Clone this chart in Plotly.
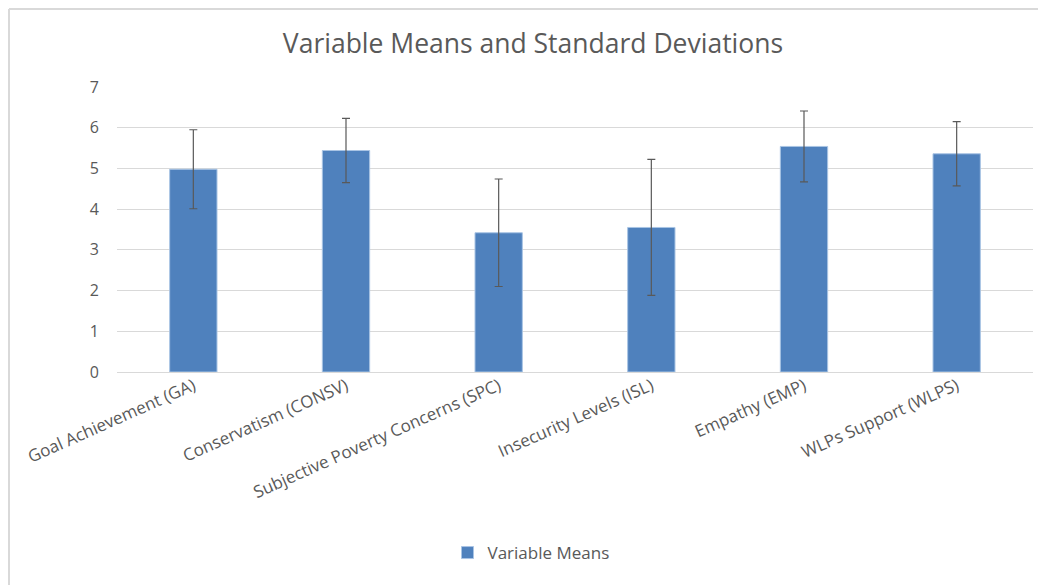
import plotly.graph_objects as go

categories = ["Goal Achievement (GA)", "Conservatism (CONSV)", "Subjective Poverty Concerns (SPC)",
              "Insecurity Levels (ISL)", "Empathy (EMP)", "WLPs Support (WLPS)"]
means = [4.98, 5.44, 3.42, 3.55, 5.54, 5.36]
std_devs = [0.97, 0.79, 1.32, 1.67, 0.87, 0.79]

# page body has an 8px margin, so the figure is sized/margined to land the plot
# area at x 117..1033, y 87..372 in the screenshot
W, H = 1038, 577
L, T, PW, PH = 109, 79, 916, 285

fig = go.Figure()
fig.add_trace(go.Bar(
    x=categories,
    y=means,
    name="Variable Means",
    marker=dict(color="#4f81bd", line=dict(color="#a9c4e4", width=1)),
    error_y=dict(type="data", array=std_devs, visible=True,
                 color="#595959", thickness=1.2, width=4),
))

fig.update_layout(
    width=W,
    height=H,
    margin=dict(l=L, r=W - L - PW, t=T, b=H - T - PH),
    paper_bgcolor="white",
    plot_bgcolor="white",
    font=dict(family="Open Sans, sans-serif", color="#595959", size=16),
    title=dict(text="Variable Means and Standard Deviations", x=(533 - 8) / W, xanchor="center",
               y=1 - 36 / H, yanchor="middle", font=dict(size=26.5, color="#595959")),
    bargap=0.69,
    showlegend=True,
    legend=dict(orientation="h", x=(531 - 117) / PW, xanchor="center", y=-181 / PH, yanchor="middle",
                itemwidth=30, font=dict(size=17, color="#595959")),
    xaxis=dict(tickangle=-24, showgrid=False, showline=False, ticks="",
               tickfont=dict(size=17)),
    yaxis=dict(range=[0, 7], dtick=1, showgrid=True, gridcolor="#d9d9d9", gridwidth=1,
               zeroline=True, zerolinecolor="#d9d9d9", zerolinewidth=1,
               showline=False, ticks="", ticklabelstandoff=17, tickfont=dict(size=16)),
)

# chart frame (top and left edges are what shows in the reference)
x_left = -L / PW
y_top = 1 + (T - 1) / PH
fig.add_shape(type="line", xref="paper", yref="paper", x0=x_left + 1 / PW, x1=1 + 8 / PW,
              y0=y_top, y1=y_top, line=dict(color="#d9d9d9", width=2))
fig.add_shape(type="line", xref="paper", yref="paper", x0=x_left + 1 / PW, x1=x_left + 1 / PW,
              y0=y_top, y1=-(H - T - PH) / PH, line=dict(color="#d9d9d9", width=2))

fig.write_html("out.html")
